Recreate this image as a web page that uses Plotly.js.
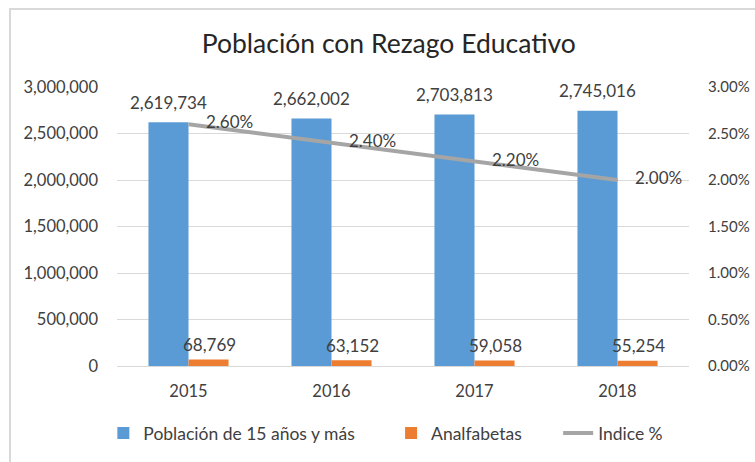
<!DOCTYPE html>
<html>
<head>
<meta charset="utf-8">
<script src="https://cdn.plot.ly/plotly-3.0.1.min.js"></script>
<style>
  html, body { margin: 0; padding: 0; background: #ffffff; overflow: hidden; }
  #frame { position: absolute; left: 9px; top: 8px; width: 800px; height: 500px; border: 2px solid #d9d9d9; box-sizing: border-box; }
  #chart { position: absolute; left: 0; top: 0; width: 755px; height: 462px; }
</style>
</head>
<body>
<div id="frame"></div>
<div id="chart"></div>
<script>
const years = ['2015', '2016', '2017', '2018'];
const poblacion = [2619734, 2662002, 2703813, 2745016];
const analfabetas = [68769, 63152, 59058, 55254];
const indice = [0.026, 0.024, 0.022, 0.020];
const seriesNames = ['Población de 15 años y más', 'Analfabetas', 'Indice %'];

const FONT = 'Lato, "Noto Sans", sans-serif';
const TXT = '#404040';
const PAD = '\u00a0\u00a0\u00a0\u00a0\u00a0\u00a0\u00a0';

const traces = [
  {
    type: 'bar', name: seriesNames[0] + PAD, x: years, y: poblacion,
    marker: {color: '#5b9bd5'}
  },
  {
    type: 'bar', name: seriesNames[1] + PAD, x: years, y: analfabetas,
    marker: {color: '#ed7d31'}
  },
  {
    type: 'scatter', mode: 'lines+text', name: seriesNames[2], x: years, y: indice,
    yaxis: 'y2',
    line: {color: '#a5a5a5', width: 4},
    texttemplate: '    %{y:.2%}', textposition: 'middle right', cliponaxis: false,
    textfont: {family: FONT, size: 17, color: TXT}
  }
];

const fmt = v => v.toLocaleString('en-US');
const annotations = [];
years.forEach((yr, i) => {
  annotations.push({x: i, y: poblacion[i], xref: 'x', yref: 'y', text: fmt(poblacion[i]),
    showarrow: false, xshift: -20.5, yshift: 20, yanchor: 'middle', xanchor: 'center',
    font: {family: FONT, size: 17, color: TXT}});
  annotations.push({x: i, y: analfabetas[i], xref: 'x', yref: 'y', text: fmt(analfabetas[i]),
    showarrow: false, xshift: 20.5, yshift: 15, yanchor: 'middle', xanchor: 'center',
    font: {family: FONT, size: 17, color: TXT}});
});

const layout = {
  width: 755, height: 462,
  margin: {l: 117, r: 66, t: 87, b: 95},
  paper_bgcolor: 'rgba(0,0,0,0)', plot_bgcolor: 'rgba(0,0,0,0)',
  font: {family: FONT, size: 16, color: TXT},
  title: {text: 'Población con Rezago Educativo', font: {family: FONT, size: 26.5, color: '#262626'},
          x: 0.515, xanchor: 'center', y: 0.905, yanchor: 'middle'},
  barmode: 'group', bargap: 0.44, bargroupgap: 0,
  showlegend: true,
  legend: {orientation: 'h', x: 0.47, xanchor: 'center', y: -0.236, yanchor: 'middle',
           font: {family: FONT, size: 17.5, color: TXT}, traceorder: 'normal'},
  annotations: annotations,
  xaxis: {type: 'category', categoryarray: years, categoryorder: 'array', range: [-0.5, 3.5],
          showgrid: false, zeroline: false, showline: false, ticks: '',
          ticklabelstandoff: 13, tickfont: {family: FONT, size: 16.5, color: TXT}},
  yaxis: {range: [0, 3000000], dtick: 500000, tickformat: ',', showgrid: true,
          gridcolor: '#d9d9d9', gridwidth: 1, zeroline: true, zerolinecolor: '#d9d9d9', zerolinewidth: 1,
          ticks: '', ticklabelstandoff: 18, tickfont: {family: FONT, size: 16.5, color: TXT}, fixedrange: true},
  yaxis2: {range: [0, 0.03], dtick: 0.005, tickformat: '.2%', overlaying: 'y', side: 'right',
           showgrid: false, zeroline: false, ticks: '', ticklabelstandoff: 18,
           tickfont: {family: FONT, size: 15, color: TXT}, fixedrange: true}
};

Plotly.newPlot('chart', traces, layout, {displayModeBar: false, staticPlot: true});
</script>
</body>
</html>
